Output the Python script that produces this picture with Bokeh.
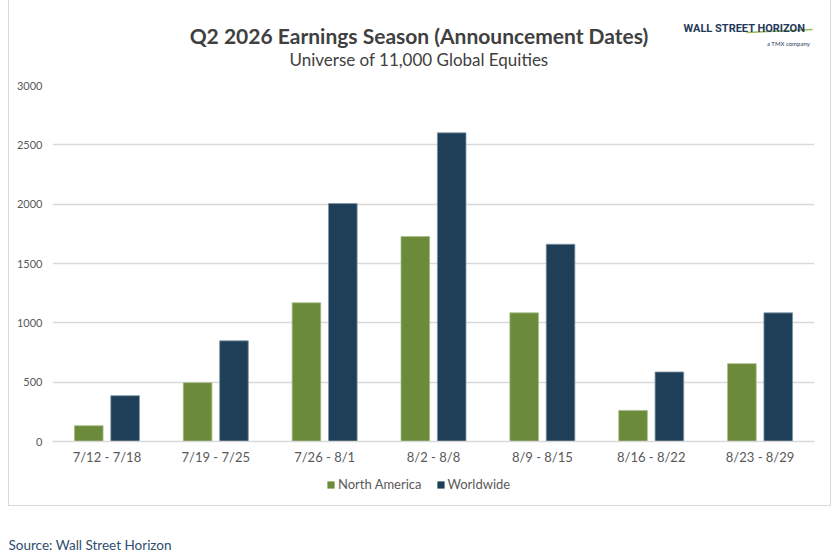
from bokeh.plotting import figure
from bokeh.layouts import column
from bokeh.models import ColumnDataSource, Legend, LegendItem
from bokeh.transform import dodge
from bokeh.core.properties import value
from bokeh.embed import file_html
from bokeh.resources import INLINE

weeks = ["7/12 - 7/18", "7/19 - 7/25", "7/26 - 8/1", "8/2 - 8/8",
         "8/9 - 8/15", "8/16 - 8/22", "8/23 - 8/29"]
north_america = [133, 496, 1169, 1727, 1084, 262, 656]
worldwide = [386, 848, 2006, 2601, 1662, 586, 1084]
y_ticks = [0, 500, 1000, 1500, 2000, 2500, 3000]

GREEN = "#6B8A3A"
NAVY = "#1E3F57"
GRID = "#D9D9D9"
TXT = "#595959"
FONT = "Lato"
W = 821
# the column lines up every frame with the chart frame, which sits at page x 52..813
FRAME_X = (52, 813)


def blank(height, width=W, x_range=FRAME_X):
    # plain figure used as a drawing area for titles, legend and notes
    f = figure(width=width, height=height, x_range=x_range, y_range=(height, 0),
               x_axis_type=None, y_axis_type=None, toolbar_location=None, tools="",
               output_backend="svg", min_border=0)
    f.outline_line_color = None
    f.grid.visible = False
    return f


# header: title, subtitle and logo
header = blank(77)
header.segment(x0=[745], y0=[32], x1=[811], y1=[29], line_color="#9BBB59", line_width=1.5)
header.text(x=[418], y=[35], text=["Q2 2026 Earnings Season (Announcement Dates)"],
            text_align="center", text_baseline="middle", text_font=value(FONT),
            text_font_style="bold", text_font_size="21px", text_color="#404040")
header.text(x=[418], y=[59], text=["Universe of 11,000 Global Equities"],
            text_align="center", text_baseline="middle", text_font=value(FONT),
            text_font_size="17px", text_color="#404040")
header.text(x=[743], y=[28], text=["WALL STREET HORIZON"], text_align="center",
            text_baseline="middle", text_font=value("Roboto, 'Liberation Sans', sans-serif"),
            text_font_style="bold", text_font_size="11px", text_color="#1F3A5A")
header.text(x=[787], y=[43], text=["a TMX company"], text_align="center",
            text_baseline="middle", text_font=value(FONT), text_font_size="6px",
            text_color="#1F3A5A")

# main chart
source = ColumnDataSource(data=dict(week=weeks, na=north_america, ww=worldwide))

p = figure(x_range=weeks, y_range=(0, 3000), width=W, height=395,
           output_backend="svg", toolbar_location=None, tools="",
           min_border_left=43, min_border_right=16,
           min_border_top=8, min_border_bottom=31)
p.outline_line_color = None

p.vbar(x=dodge("week", -0.167, range=p.x_range), top="na", width=0.263,
       source=source, fill_color=GREEN, line_color="#A9BE8C", line_width=0.8)
p.vbar(x=dodge("week", 0.167, range=p.x_range), top="ww", width=0.263,
       source=source, fill_color=NAVY, line_color="#7F95A6", line_width=0.8)

p.xgrid.grid_line_color = None
p.ygrid.grid_line_color = GRID
p.ygrid.grid_line_width = 1.3
p.yaxis.ticker = y_ticks
p.yaxis.axis_line_color = None
p.yaxis.major_tick_line_color = None
p.yaxis.minor_tick_line_color = None
p.yaxis.major_tick_out = 0
p.yaxis.major_tick_in = 0
p.yaxis.major_label_standoff = 10
p.yaxis.major_label_text_font = FONT
p.yaxis.major_label_text_font_size = "11px"
p.yaxis.major_label_text_color = TXT

p.xaxis.axis_line_color = GRID
p.xaxis.axis_line_width = 1.3
p.xaxis.major_tick_line_color = None
p.xaxis.minor_tick_line_color = None
p.xaxis.major_tick_out = 0
p.xaxis.major_tick_in = 0
p.xaxis.major_label_standoff = 7
p.xaxis.major_label_text_font = FONT
p.xaxis.major_label_text_font_size = "13px"
p.xaxis.major_label_text_color = TXT

# legend strip (swatch renderers are zero-height bars, so only the legend shows them)
leg = blank(33)
l_na = leg.vbar(x=[400], bottom=[0], top=[0], width=1,
                fill_color=GREEN, line_color=None)
l_ww = leg.vbar(x=[400], bottom=[0], top=[0], width=1,
                fill_color=NAVY, line_color=None)
legend = Legend(items=[LegendItem(label="North America", renderers=[l_na]),
                       LegendItem(label="Worldwide", renderers=[l_ww])],
                orientation="horizontal", location=(274, 13),
                border_line_color=None, background_fill_alpha=0,
                glyph_width=9, glyph_height=9, spacing=14, label_standoff=3,
                label_text_font=FONT, label_text_font_size="13px",
                label_text_color=TXT, padding=4, margin=0)
leg.add_layout(legend)

box = column(header, p, leg, margin=(0, 0, 0, 8),
             styles={"border-left": "1px solid #D9D9D9",
                     "border-right": "1px solid #D9D9D9",
                     "border-bottom": "1px solid #D9D9D9"})

# source note below the box
note = blank(50, width=830, x_range=(0, 830))
note.text(x=[8], y=[38], text=["Source: Wall Street Horizon"], text_align="left",
          text_baseline="middle", text_font=value(FONT), text_font_size="13.5px",
          text_color="#2E4D6E")

layout = column(box, note)

open("out.html", "w").write(file_html(layout, INLINE))
